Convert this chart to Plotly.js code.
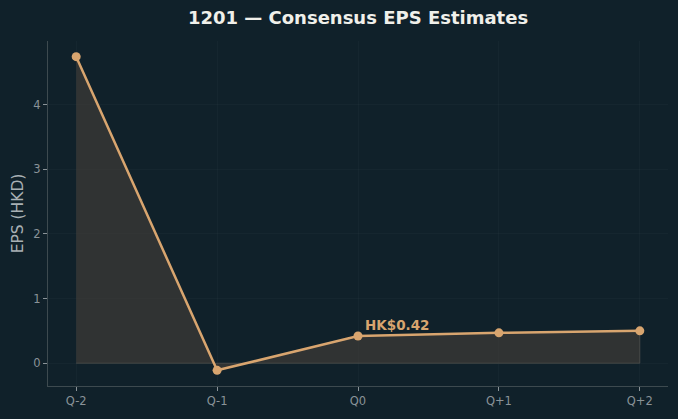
<!DOCTYPE html>
<html><head><meta charset="utf-8">
<script src="https://cdn.plot.ly/plotly-3.0.1.min.js"></script>
<style>html,body{margin:0;padding:0;background:#10212a;}#chart{width:678px;height:419px;}</style>
</head><body><div id="chart"></div>
<script>
const quarters = ["Q-2", "Q-1", "Q0", "Q+1", "Q+2"];
const epsValues = [4.74, -0.11, 0.42, 0.47, 0.50];
const currentLabel = "HK$0.42";
const currentIndex = 2;

const bg = "#10212a";
const lineColor = "#d8a56f";
const fillTrace = {
  x: quarters.concat(quarters.slice().reverse()),
  y: epsValues.concat(epsValues.map(() => 0)),
  type: "scatter", mode: "lines", fill: "toself",
  fillcolor: "rgba(62,60,55,0.7)",
  line: {color: "rgba(90,90,85,0.6)", width: 1},
  hoverinfo: "skip", showlegend: false
};
const lineTrace = {
  x: quarters, y: epsValues, type: "scatter", mode: "lines+markers",
  line: {color: lineColor, width: 2.5},
  marker: {color: lineColor, size: 9},
  showlegend: false
};
const layout = {
  width: 678, height: 419,
  paper_bgcolor: bg, plot_bgcolor: bg,
  margin: {l: 48, r: 10, t: 41, b: 33},
  font: {family: "DejaVu Sans", color: "#8a9398", size: 11.5},
  title: {text: "<b>1201 — Consensus EPS Estimates</b>", xref: "paper", x: 0.5, xanchor: "center", y: 0.957, yanchor: "middle",
          font: {family: "DejaVu Sans", size: 18, color: "#f0f0ea"}},
  xaxis: {type: "category", range: [-0.2, 4.2], showline: true, linecolor: "#3d4a4f", linewidth: 1,
          ticks: "outside", ticklen: 4, tickcolor: "#8a9398", showgrid: true, gridcolor: "rgba(255,255,255,0.025)",
          zeroline: false, tickfont: {size: 11.5, color: "#8a9398"}},
  yaxis: {range: [-0.3525, 4.9825], showline: true, linecolor: "#3d4a4f", linewidth: 1,
          ticks: "outside", ticklen: 4, tickcolor: "#8a9398", showgrid: true, gridcolor: "rgba(255,255,255,0.025)",
          zeroline: false, dtick: 1, tickfont: {size: 11.5, color: "#8a9398"},
          title: {text: "EPS (HKD)", font: {size: 15.5, color: "#a8b0b4"}, standoff: 5}},
  annotations: [{x: quarters[currentIndex], y: epsValues[currentIndex], text: "<b>" + currentLabel + "</b>",
    showarrow: false, xanchor: "left", yanchor: "middle", xshift: 5, yshift: 11,
    font: {size: 13.5, color: lineColor, family: "DejaVu Sans"}}]
};
Plotly.newPlot("chart", [fillTrace, lineTrace], layout, {displayModeBar: false, staticPlot: true});
</script></body></html>
